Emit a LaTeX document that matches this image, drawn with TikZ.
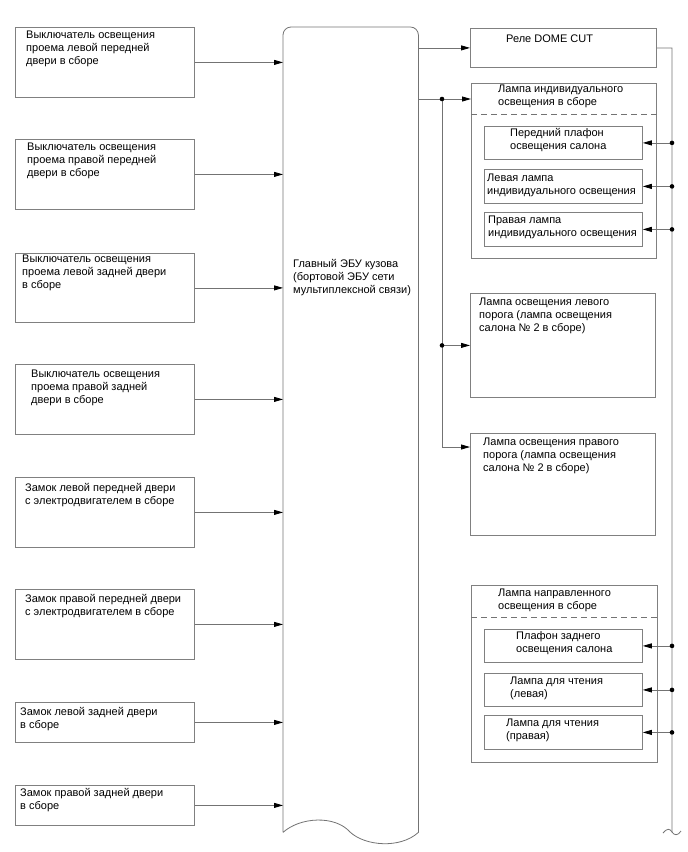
\documentclass[tikz,border=0pt]{standalone}
\usepackage{fontspec}
\setmainfont{Liberation Sans}
\usetikzlibrary{positioning,arrows.meta,calc}

\begin{document}
\begin{tikzpicture}[
  x=1pt, y=-1pt,
  every node/.style={font=\fontsize{11}{13}\selectfont},
  blk/.style={draw=black!50, line width=0.8pt, anchor=north west, inner sep=0pt},
  txt/.style={anchor=north west, inner sep=0pt, align=left},
  wire/.style={draw=black!55, line width=0.8pt},
  arr/.style={wire, -{Triangle[length=9pt,width=5pt,color=black]}},
  brk/.style={wire, dash pattern=on 6pt off 4pt}
]
\useasboundingbox (0,0) rectangle (688,852);

% switches and locks
\node[blk, minimum width=179pt, minimum height=70pt] (sw1) at (15,27) {};
\node[txt] (sw1t) at (26,30.5) {Выключатель освещения\\проема левой передней\\двери в сборе};
\node[blk, minimum width=179pt, minimum height=70pt] (sw2) at (15,139) {};
\node[txt] (sw2t) at (27,142.5) {Выключатель освещения\\проема правой передней\\двери в сборе};
\node[blk, minimum width=179pt, minimum height=69pt] (sw3) at (15,253) {};
\node[txt] (sw3t) at (22,254.5) {Выключатель освещения\\проема левой задней двери\\в сборе};
\node[blk, minimum width=179pt, minimum height=70pt] (sw4) at (15,364) {};
\node[txt] (sw4t) at (31,369.5) {Выключатель освещения\\проема правой задней\\двери в сборе};
\node[blk, minimum width=179pt, minimum height=70pt] (lk1) at (15,477) {};
\node[txt] (lk1t) at (25,483) {Замок левой передней двери\\с электродвигателем в сборе};
\node[blk, minimum width=179pt, minimum height=70pt] (lk2) at (15,589) {};
\node[txt] (lk2t) at (25,594.5) {Замок правой передней двери\\с электродвигателем в сборе};
\node[blk, minimum width=179pt, minimum height=40pt] (lk3) at (15,702) {};
\node[txt] (lk3t) at (20,707.5) {Замок левой задней двери\\в сборе};
\node[blk, minimum width=179pt, minimum height=40pt] (lk4) at (15,785) {};
\node[txt] (lk4t) at (20,788.5) {Замок правой задней двери\\в сборе};

% body ECU
\node[anchor=north west, inner sep=0pt, minimum width=135pt, minimum height=805pt] (ecu) at (283,27) {};
\draw[wire] (ecu.south west) [rounded corners=8pt] -- (ecu.north west) -- (ecu.north east)
  [sharp corners] -- (ecu.south east)
  .. controls (400,849) and (365,846) .. (350,832)
  .. controls (335,815) and (300,817) .. (ecu.south west);
\node[txt] (ecut) at (293,259.5) {Главный ЭБУ кузова\\(бортовой ЭБУ сети\\мультиплексной связи)};

% lamps
\node[blk, minimum width=186pt, minimum height=39pt] (dome) at (470,28) {};
\node[txt] (domet) at (506,34.5) {Реле DOME CUT};

\node[blk, minimum width=185pt, minimum height=175pt] (indiv) at (471,83) {};
\node[txt] (indivt) at (498,84.5) {Лампа индивидуального\\освещения в сборе};
\draw[brk] (indiv.west |- 0,114) -- (indiv.east |- 0,114);
\node[blk, minimum width=158pt, minimum height=33pt] (front) at (484,126) {};
\node[txt] (frontt) at (510,128.5) {Передний плафон\\освещения салона};
\node[blk, minimum width=158pt, minimum height=34pt] (lind) at (484,169) {};
\node[txt] (lindt) at (487,173.5) {Левая лампа\\индивидуального освещения};
\node[blk, minimum width=158pt, minimum height=34pt] (rind) at (484,212) {};
\node[txt] (rindt) at (488,215.5) {Правая лампа\\индивидуального освещения};

\node[blk, minimum width=185pt, minimum height=104pt] (lsill) at (470,293) {};
\node[txt] (lsillt) at (479,297.5) {Лампа освещения левого\\порога (лампа освещения\\салона № 2 в сборе)};
\node[blk, minimum width=185pt, minimum height=102pt] (rsill) at (470,433) {};
\node[txt] (rsillt) at (483,437.5) {Лампа освещения правого\\порога (лампа освещения\\салона № 2 в сборе)};

\node[blk, minimum width=186pt, minimum height=177pt] (dir) at (471,585) {};
\node[txt] (dirt) at (498,588.5) {Лампа направленного\\освещения в сборе};
\draw[brk] (dir.west |- 0,617) -- (dir.east |- 0,617);
\node[blk, minimum width=158pt, minimum height=33pt] (rear) at (484,629) {};
\node[txt] (reart) at (516,631.5) {Плафон заднего\\освещения салона};
\node[blk, minimum width=158pt, minimum height=33pt] (lread) at (484,673) {};
\node[txt] (lreadt) at (510,676.5) {Лампа для чтения\\(левая)};
\node[blk, minimum width=158pt, minimum height=34pt] (rread) at (484,715) {};
\node[txt] (rreadt) at (506,718.5) {Лампа для чтения\\(правая)};

% inputs
\draw[arr] (sw1.east) -- (sw1.east -| ecu.west);
\draw[arr] (sw2.east) -- (sw2.east -| ecu.west);
\draw[arr] (sw3.east) -- (sw3.east -| ecu.west);
\draw[arr] (sw4.east) -- (sw4.east -| ecu.west);
\draw[arr] (lk1.east) -- (lk1.east -| ecu.west);
\draw[arr] (lk2.east) -- (lk2.east -| ecu.west);
\draw[arr] (lk3.east) -- (lk3.east -| ecu.west);
\draw[arr] (lk4.east) -- (lk4.east -| ecu.west);

% outputs
\coordinate (br) at (442,99);
\coordinate (rsin) at ($(rsill.north west)+(0,14)$);
\draw[arr] (dome.west -| ecu.east) -- (dome.west);
\draw[arr] (br -| ecu.east) -- (br -| indiv.west);
\draw[arr] (br) |- (rsin);
\draw[arr] (br |- lsill.west) -- (lsill.west);
\fill (br) circle (2.3);
\fill (br |- lsill.west) circle (2.3);

% relay line
\coordinate (busend) at (672,832);
\draw[wire] (dome.east) -| (busend) .. controls (674,835.5) and (678,836) .. (681,831);
\draw[wire] (busend) .. controls (670,828.5) and (667,828) .. (663,833);
\draw[arr] (front.east -| busend) -- (front.east);
\draw[arr] (lind.east -| busend) -- (lind.east);
\draw[arr] (rind.east -| busend) -- (rind.east);
\draw[arr] (rear.east -| busend) -- (rear.east);
\draw[arr] (lread.east -| busend) -- (lread.east);
\draw[arr] (rread.east -| busend) -- (rread.east);
\fill (front.east -| busend) circle (2.3);
\fill (lind.east -| busend) circle (2.3);
\fill (rind.east -| busend) circle (2.3);
\fill (rear.east -| busend) circle (2.3);
\fill (lread.east -| busend) circle (2.3);
\fill (rread.east -| busend) circle (2.3);

\end{tikzpicture}
\end{document}
